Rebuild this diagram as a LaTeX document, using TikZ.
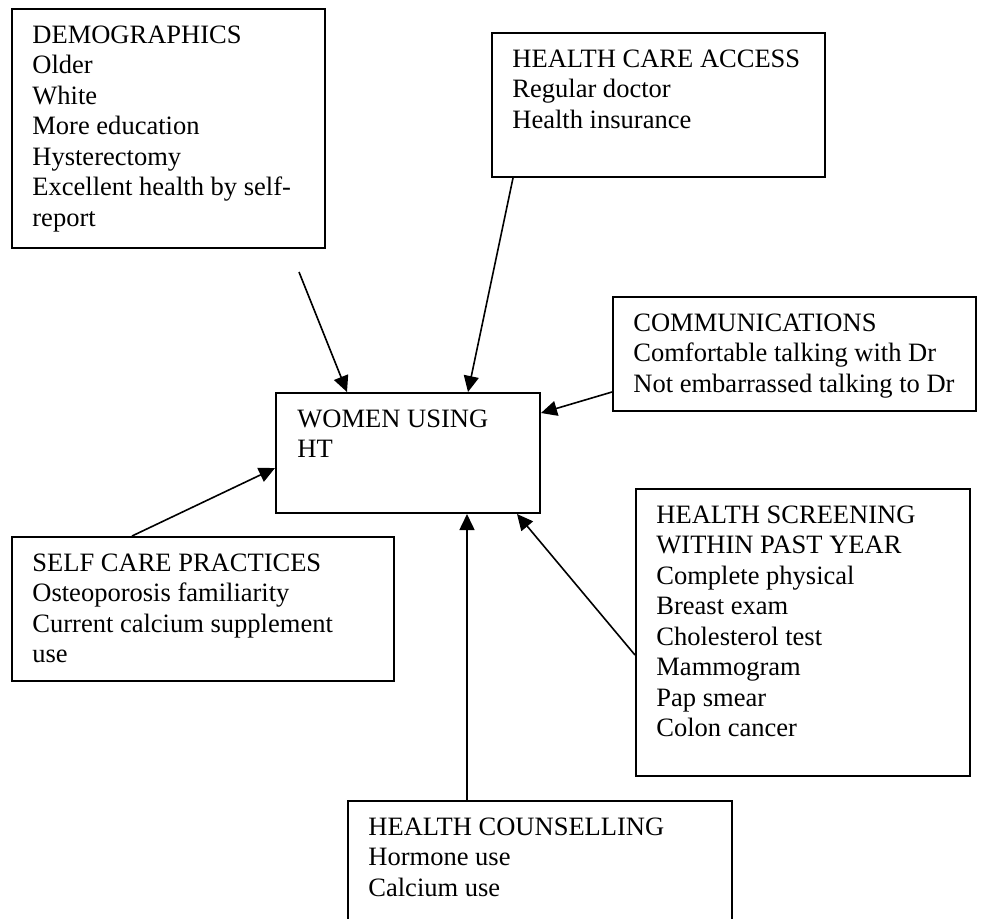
\documentclass[tikz,border=0pt]{standalone}
\usepackage{fontspec}
\setmainfont{Liberation Serif}
\usetikzlibrary{arrows.meta}
\begin{document}
\begin{tikzpicture}[x=0.5pt,y=-0.5pt,
  box/.style={draw, line width=1pt, rectangle, inner sep=0pt, anchor=north west},
  txt/.style={inner sep=0pt, anchor=north west, align=left, font=\fontsize{13.26pt}{15.25pt}\selectfont},
  arr/.style={line width=0.8pt, -{Triangle[length=8pt,width=7.5pt]}}]
\useasboundingbox (0,0) rectangle (986,918);
\clip (0,0) rectangle (986,918);
% boxes
\node[box, minimum width=156.5pt, minimum height=119.5pt] (demo) at (11,8) {};
\node[box, minimum width=166.5pt, minimum height=72pt] (hca) at (491,32) {};
\node[box, minimum width=181.5pt, minimum height=57pt] (comm) at (612,296) {};
\node[box, minimum width=132pt, minimum height=60pt] (women) at (275,392) {};
\node[box, minimum width=191pt, minimum height=72pt] (self) at (11,536) {};
\node[box, minimum width=167pt, minimum height=143.5pt] (hs) at (635,488) {};
\node[box, minimum width=192pt, minimum height=80pt] (couns) at (347,800) {};
% texts
\node[txt] (demotxt) at ([xshift=10.5pt,yshift=-7.5pt]demo.north west)
  {\rule{0pt}{10pt}DEMOGRAPHICS\\Older\\White\\More education\\Hysterectomy\\Excellent health by self-\\report};
\node[txt] (hcatxt) at ([xshift=10.5pt,yshift=-7.5pt]hca.north west)
  {\rule{0pt}{10pt}HEALTH CARE ACCESS\\Regular doctor\\Health insurance};
\node[txt] (commtxt) at ([xshift=10.5pt,yshift=-7.5pt]comm.north west)
  {\rule{0pt}{10pt}COMMUNICATIONS\\Comfortable talking with Dr\\Not embarrassed talking to Dr};
\node[txt] (womentxt) at ([xshift=11pt,yshift=-7.5pt]women.north west)
  {\rule{0pt}{10pt}WOMEN USING\\HT};
\node[txt] (selftxt) at ([xshift=10.5pt,yshift=-7.5pt]self.north west)
  {\rule{0pt}{10pt}SELF CARE PRACTICES\\Osteoporosis familiarity\\Current calcium supplement\\use};
\node[txt] (hstxt) at ([xshift=10.5pt,yshift=-7.5pt]hs.north west)
  {\rule{0pt}{10pt}HEALTH SCREENING\\WITHIN PAST YEAR\\Complete physical\\Breast exam\\Cholesterol test\\Mammogram\\Pap smear\\Colon cancer};
\node[txt] (counstxt) at ([xshift=10.5pt,yshift=-7.5pt]couns.north west)
  {\rule{0pt}{10pt}HEALTH COUNSELLING\\Hormone use\\Calcium use};
% connectors
\coordinate (dtail) at (299,272);
\draw[arr] (dtail) -- ([xshift=36pt]women.north west);
\draw[arr] ([xshift=11pt]hca.south west) -- ([xshift=96.5pt]women.north west);
\draw[arr] ([yshift=-48pt]comm.north west) -- ([yshift=-10.5pt]women.north east);
\draw[arr] ([xshift=60.5pt]self.north west) -- ([yshift=-38pt]women.north west);
\draw[arr] ([xshift=60pt]couns.north west) -- ([xshift=96pt]women.south west);
\draw[arr] ([yshift=-83.5pt]hs.north west) -- ([xshift=121pt]women.south west);
\end{tikzpicture}
\end{document}
